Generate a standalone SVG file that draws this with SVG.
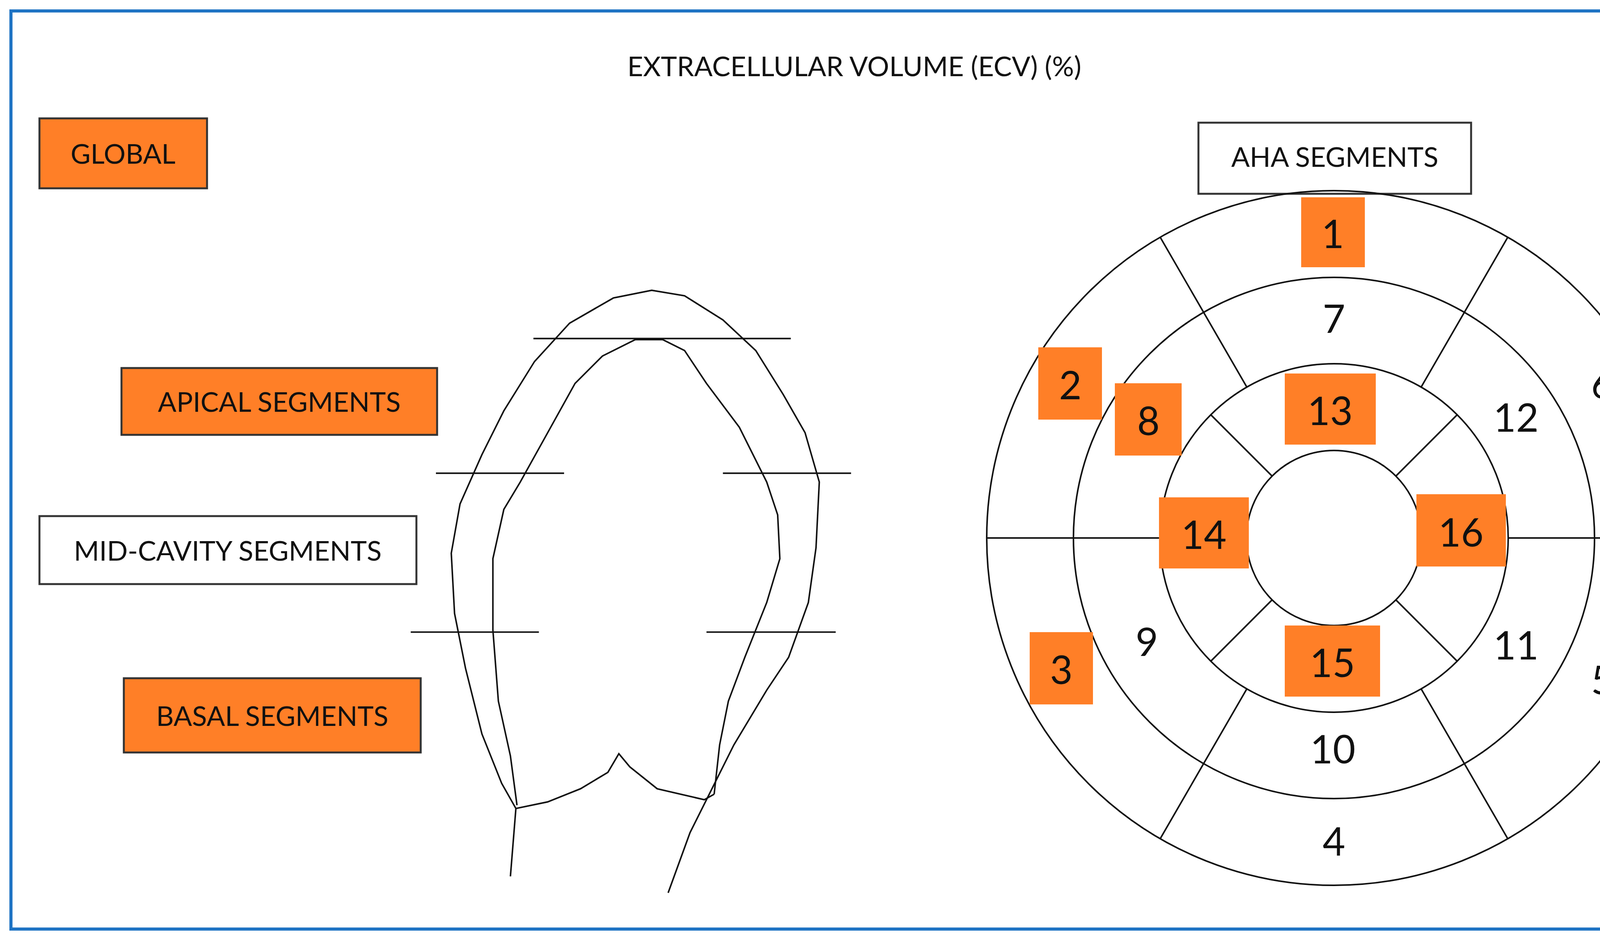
<svg xmlns="http://www.w3.org/2000/svg" width="4397" height="2406" viewBox="0 0 4397 2406">
<style>
.lbl{font-family:Lato,"Liberation Sans",sans-serif;font-size:70px;fill:#111;text-anchor:middle;dominant-baseline:central}
.num{font-family:Lato,"Liberation Sans",sans-serif;font-size:100px;fill:#111;text-anchor:middle;dominant-baseline:central}
.ob{fill:#FF7F27;stroke:#333;stroke-width:5}
.wb{fill:#fff;stroke:#333;stroke-width:5}
.nb{fill:#FF7F27}
.ln{fill:none;stroke:#111;stroke-width:4}
</style>
<rect width="4397" height="2406" fill="#fff"/>
<rect x="28" y="28" width="4341" height="2350" fill="none" stroke="#1f74c4" stroke-width="8"/>
<text class="lbl" x="2187" y="168">EXTRACELLULAR VOLUME (ECV) (%)</text>
<g id="global"><rect class="ob" x="101" y="303" width="429" height="179"/><text class="lbl" x="315" y="392">GLOBAL</text></g>
<g id="apical"><rect class="ob" x="311" y="942" width="808" height="171"/><text class="lbl" x="715" y="1027">APICAL SEGMENTS</text></g>
<g id="mid"><rect class="wb" x="101" y="1321" width="965" height="174"/><text class="lbl" x="583" y="1408">MID-CAVITY SEGMENTS</text></g>
<g id="basal"><rect class="ob" x="317" y="1736" width="760" height="190"/><text class="lbl" x="697" y="1831">BASAL SEGMENTS</text></g>
<g id="heart" transform="scale(2.804)">
<path fill="none" stroke="#111" stroke-width="1.4" d="M466,800 L471,738 L458,715 L440,670 L425,610 L415,560 L412,505 L420,460 L440,415 L460,375 L488,330 L520,295 L560,272 L595,265 L625,270 L660,292 L690,320 L715,360 L735,395 L748,440 L745,500 L738,550 L720,600 L700,630 L670,680 L650,720 L630,760 L610,815"/>
<path fill="none" stroke="#111" stroke-width="1.4" d="M472,735 L466,690 L455,640 L450,575 L450,510 L460,465 L475,440 L500,395 L525,350 L550,325 L580,310 L605,310 L625,320 L645,350 L675,390 L700,440 L710,470 L712,510 L700,550 L680,600 L665,640 L657,680 L652,725"/>
<path fill="none" stroke="#111" stroke-width="1.4" d="M471,738 L500,732 L530,720 L555,705 L565,688 L575,700 L600,720 L643,730 L652,725"/>
<path fill="none" stroke="#111" stroke-width="1.4" d="M487,309H722M398,432H515M660,432H777M375,577H492M645,577H763"/>
</g>
<g id="aha-label"><rect class="wb" x="3068" y="314" width="698" height="182"/><text class="lbl" x="3417" y="400">AHA SEGMENTS</text></g>
<g id="bullseye">
<circle class="ln" cx="3415" cy="1377" r="889"/>
<circle class="ln" cx="3415" cy="1377" r="667"/>
<circle class="ln" cx="3415" cy="1377" r="446"/>
<circle class="ln" cx="3415" cy="1377" r="224"/>
<path class="ln" d="M2526,1377H2969M3861,1377H4304M3192,991L2970,607M3638,991L3860,607M3192,1763L2970,2147M3638,1763L3860,2147M3257,1219L3100,1062M3573,1219L3730,1062M3257,1535L3100,1692M3573,1535L3730,1692"/>
</g>
<g id="seg1"><rect class="nb" x="3331" y="505" width="163" height="179"/><text class="num" x="3412" y="596">1</text></g>
<g id="seg2"><rect class="nb" x="2658" y="889" width="163" height="185"/><text class="num" x="2740" y="983">2</text></g>
<g id="seg3"><rect class="nb" x="2636" y="1618" width="162" height="185"/><text class="num" x="2717" y="1712">3</text></g>
<g id="seg8"><rect class="nb" x="2854" y="981" width="171" height="185"/><text class="num" x="2940" y="1075">8</text></g>
<g id="seg13"><rect class="nb" x="3289" y="956" width="233" height="182"/><text class="num" x="3405" y="1049">13</text></g>
<g id="seg14"><rect class="nb" x="2967" y="1273" width="230" height="182"/><text class="num" x="3082" y="1366">14</text></g>
<g id="seg16"><rect class="nb" x="3626" y="1265" width="229" height="185"/><text class="num" x="3740" y="1360">16</text></g>
<g id="seg15"><rect class="nb" x="3289" y="1601" width="244" height="182"/><text class="num" x="3411" y="1694">15</text></g>
<text class="num" x="3415" y="813">7</text>
<text class="num" x="4102" y="981">6</text>
<text class="num" x="3881" y="1066">12</text>
<text class="num" x="2936" y="1640">9</text>
<text class="num" x="3881" y="1649">11</text>
<text class="num" x="4102" y="1738">5</text>
<text class="num" x="3412" y="1915">10</text>
<text class="num" x="3415" y="2151">4</text>
</svg>
